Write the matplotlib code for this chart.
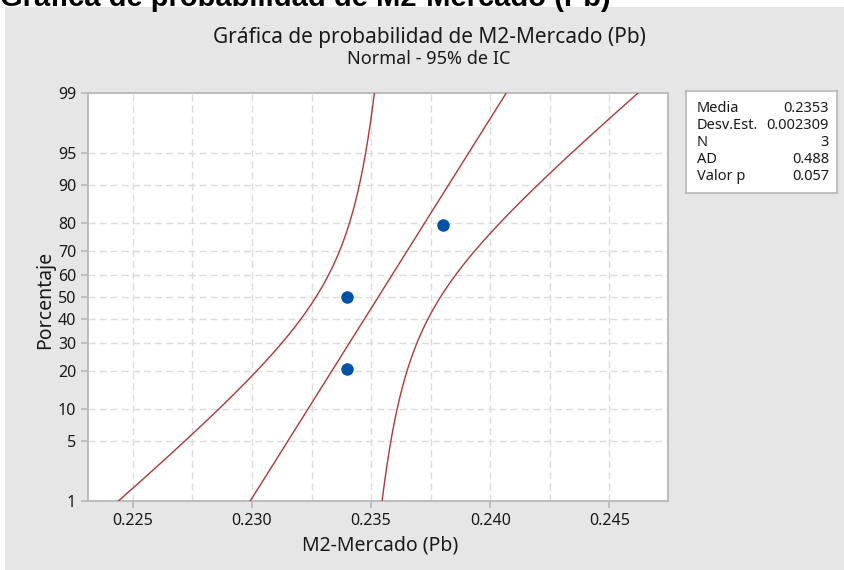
import math
from statistics import NormalDist

import matplotlib
matplotlib.use("Agg")
import matplotlib.pyplot as plt
import numpy as np
from matplotlib.patches import Rectangle

plt.rcParams["font.family"] = ["Noto Sans", "DejaVu Sans"]

# --- data ---
x_values = [0.234, 0.234, 0.238]
percent_values = [20.6, 50.0, 79.4]
mean = 0.2353
std = 0.002309
n = 3
ad_stat = 0.488
p_value = 0.057

y_ticks = [1, 5, 10, 20, 30, 40, 50, 60, 70, 80, 90, 95, 99]
x_ticks = [0.225, 0.230, 0.235, 0.240, 0.245]

W, H = 845, 570
nd = NormalDist()
TXT = "#1a1a1a"


def z(p):
    return nd.inv_cdf(p / 100.0)


fig = plt.figure(figsize=(W / 100, H / 100), dpi=100)
fig.patch.set_facecolor("white")

# gray panel behind everything
fig.patches.append(Rectangle((5 / W, 0.0), 1 - 5 / W, 1 - 7 / H,
                             transform=fig.transFigure, facecolor="#e6e6e6",
                             edgecolor="none", zorder=-10))
# cropped header from the page above
fig.text(0 / W, 1 - 6 / H, "Gráfica de probabilidad de M2-Mercado (Pb)",
         fontsize=21, fontweight="bold", family="Liberation Sans",
         color="black", ha="left", va="baseline")

ax = fig.add_axes([88 / W, 1 - 501 / H, 580 / W, 408 / H])
ax.set_facecolor("white")

# fitted line and 95% CI bands
zz = np.linspace(z(1), z(99), 400)
line_x = mean + zz * std
c4 = math.sqrt(2 / (n - 1)) * math.gamma(n / 2) / math.gamma((n - 1) / 2)
half = 1.96 * std * np.sqrt(1 / n + zz ** 2 * (1 - c4 ** 2))
red = "#b03838"
ax.plot(line_x, zz, color=red, lw=1.0, zorder=3)
ax.plot(line_x - half, zz, color=red, lw=1.0, zorder=3)
ax.plot(line_x + half, zz, color=red, lw=1.0, zorder=3)

ax.plot(x_values, [z(p) for p in percent_values], "o", color="#0054a6",
        markersize=8, zorder=4)

ax.set_xlim(0.22312, 0.24746)
ax.set_ylim(z(1), z(99))
ax.set_yticks([z(p) for p in y_ticks])
ax.set_yticklabels([str(p) for p in y_ticks])
ax.set_xticks(x_ticks)
ax.set_xticklabels([f"{v:.3f}" for v in x_ticks])

grid_kw = dict(color="#dcdcdc", lw=1.0, ls=(0, (5, 3)), zorder=1)
for p in y_ticks[1:-1]:
    ax.axhline(z(p), **grid_kw)
for gx in np.arange(0.225, 0.2476, 0.0025):
    ax.axvline(gx, **grid_kw)

for s in ax.spines.values():
    s.set_color("#b8b8b8")
    s.set_linewidth(1.3)
ax.tick_params(colors="#b8b8b8", labelcolor=TXT, labelsize=11.5,
               length=5, width=1.2)

fig.text(380 / W, 1 - 546 / H, "M2-Mercado (Pb)", fontsize=14,
         color=TXT, ha="center", va="center")
fig.text(45 / W, 1 - 300 / H, "Porcentaje", fontsize=14, rotation=90,
         color=TXT, ha="center", va="center")

fig.text(429 / W, 1 - 38 / H, "Gráfica de probabilidad de M2-Mercado (Pb)",
         fontsize=15, color=TXT, ha="center", va="center")
fig.text(429 / W, 1 - 59 / H, "Normal - 95% de IC", fontsize=13,
         color=TXT, ha="center", va="center")

# stats box
lg = fig.add_axes([686 / W, 1 - 193 / H, 151 / W, 102 / H])
lg.set_facecolor("white")
lg.set_xticks([])
lg.set_yticks([])
for s in lg.spines.values():
    s.set_color("#b8b8b8")
    s.set_linewidth(1.2)
rows = [("Media", f"{mean:.4f}"), ("Desv.Est.", f"{std:.6f}"), ("N", str(n)),
        ("AD", f"{ad_stat:.3f}"), ("Valor p", f"{p_value:.3f}")]
for i, (k, v) in enumerate(rows):
    yy = 1 - (18 + 17 * i) / 102
    lg.text(11 / 151, yy, k, fontsize=10.5, color=TXT, ha="left",
            va="center", transform=lg.transAxes)
    lg.text(143 / 151, yy, v, fontsize=10.5, color=TXT, ha="right",
            va="center", transform=lg.transAxes)

fig.savefig("out.png", dpi=100)
